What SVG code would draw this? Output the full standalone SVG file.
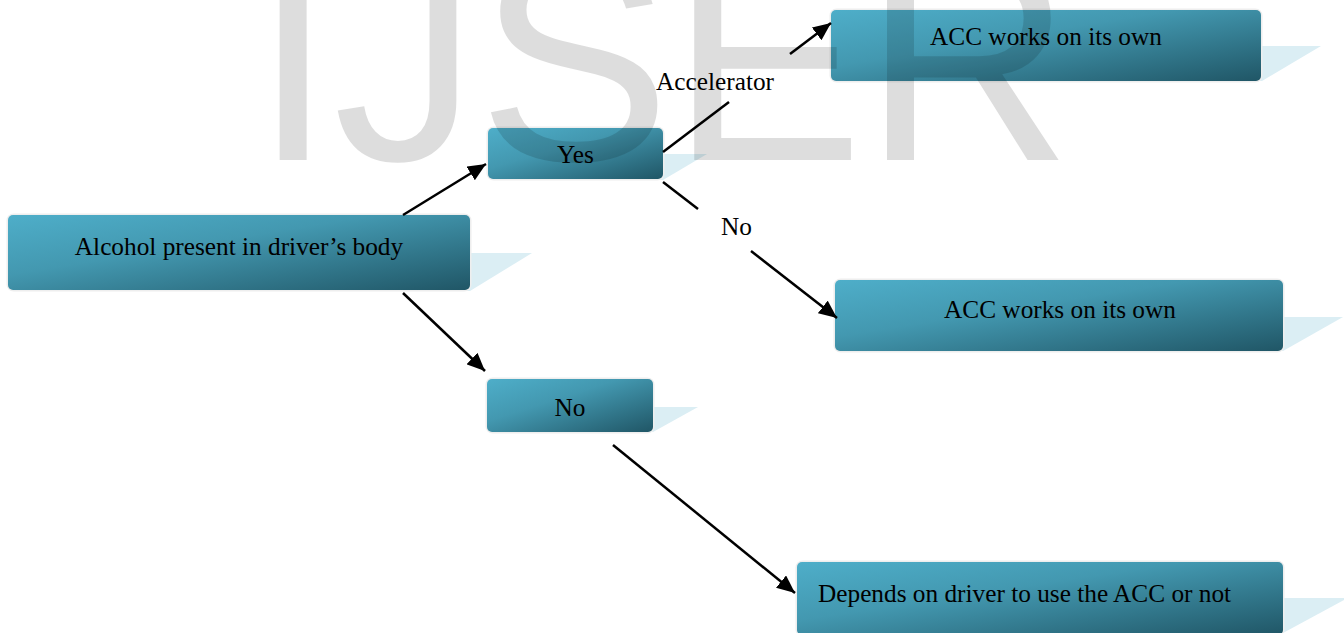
<svg xmlns="http://www.w3.org/2000/svg" width="1344" height="633" viewBox="0 0 1344 633">
<defs>
<linearGradient id="boxgrad" x1="0" y1="0" x2="1" y2="1">
<stop offset="0" stop-color="#4eaec9"/>
<stop offset="0.4" stop-color="#4398b0"/>
<stop offset="1" stop-color="#205666"/>
</linearGradient>
<marker id="arrow" markerUnits="userSpaceOnUse" markerWidth="19" markerHeight="16" refX="18" refY="8" orient="auto">
<path d="M0,0 L18,8 L0,16 z" fill="#000"/>
</marker>
</defs>
<style>
.halo{fill:#eeeeee}
.box{fill:url(#boxgrad)}
.shadow{fill:#dbeef4}
.lbl{font-family:"Liberation Serif","Times New Roman",serif;font-size:25.3px;fill:#000}
.conn{stroke:#000;stroke-width:2.5;fill:none}
.wm{font-family:"Liberation Sans",Arial,sans-serif;font-size:289px;fill:#000;opacity:0.13}
</style>
<rect width="1344" height="633" fill="#fff"/>

<g id="node-alcohol">
<polygon class="shadow" points="455,253 532,253 470,291 455,291"/>
<rect class="halo" x="6.5" y="213.5" width="465" height="78" rx="7"/>
<rect class="box" x="8" y="215" width="462" height="75" rx="5"/>
<text class="lbl" x="239" y="255" text-anchor="middle">Alcohol present in driver’s body</text>
</g>

<g id="node-yes">
<polygon class="shadow" points="650,154 707,154 663,180 650,180"/>
<rect class="halo" x="486.5" y="126.5" width="178" height="54" rx="7"/>
<rect class="box" x="488" y="128" width="175" height="51" rx="5"/>
<text class="lbl" x="575.5" y="163" text-anchor="middle">Yes</text>
</g>

<g id="node-no">
<polygon class="shadow" points="640,407 698,407 653,432 640,432"/>
<rect class="halo" x="485.5" y="377.5" width="169" height="56" rx="7"/>
<rect class="box" x="487" y="379" width="166" height="53" rx="5"/>
<text class="lbl" x="570" y="416" text-anchor="middle">No</text>
</g>

<g id="node-acc-top">
<polygon class="shadow" points="1250,46 1321,46 1262,81 1250,81"/>
<rect class="halo" x="829.5" y="8.5" width="433" height="74" rx="7"/>
<rect class="box" x="831" y="10" width="430" height="71" rx="5"/>
<text class="lbl" x="1046" y="45" text-anchor="middle">ACC works on its own</text>
</g>

<g id="node-acc-mid">
<polygon class="shadow" points="1270,317 1343,317 1283,351 1270,351"/>
<rect class="halo" x="833.5" y="278.5" width="451" height="74" rx="7"/>
<rect class="box" x="835" y="280" width="448" height="71" rx="5"/>
<text class="lbl" x="1060" y="318" text-anchor="middle">ACC works on its own</text>
</g>

<g id="node-depends">
<polygon class="shadow" points="1270,598 1344,598 1344,600 1283,633 1270,633"/>
<rect class="halo" x="795.5" y="560.5" width="489" height="76" rx="7"/>
<rect class="box" x="797" y="562" width="486" height="73" rx="5"/>
<text class="lbl" x="818" y="602">Depends on driver to use the ACC or not</text>
</g>

<g id="connectors">
<path class="conn" d="M403,215 L486,164" marker-end="url(#arrow)"/>
<path class="conn" d="M403,293 L485,371" marker-end="url(#arrow)"/>
<path class="conn" d="M663,152 L729,102"/>
<path class="conn" d="M790,54 L831,23" marker-end="url(#arrow)"/>
<text class="lbl" x="715" y="90" text-anchor="middle">Accelerator</text>
<path class="conn" d="M663,182 L698,209"/>
<path class="conn" d="M751,251 L837,318" marker-end="url(#arrow)"/>
<text class="lbl" x="736.5" y="235" text-anchor="middle">No</text>
<path class="conn" d="M613,445 L795,593" marker-end="url(#arrow)"/>
</g>

<text class="wm" x="253" y="160">IJSER</text>
</svg>
